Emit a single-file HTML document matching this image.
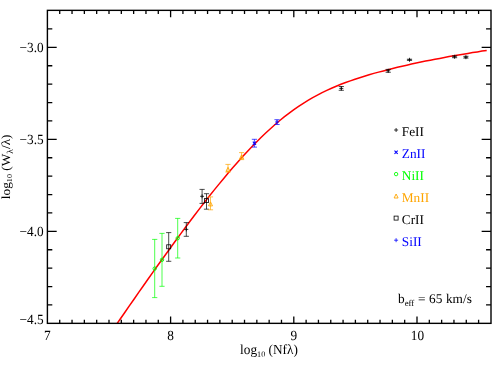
<!DOCTYPE html>
<html><head><meta charset="utf-8"><title>Curve of growth</title>
<style>
html,body{margin:0;padding:0;background:#fff;}
body{width:498px;height:378px;overflow:hidden;font-family:"Liberation Serif",serif;}
svg{display:block;will-change:transform;}
text{font-family:"Liberation Serif",serif;font-size:13.3px;text-rendering:geometricPrecision;}
</style></head><body>
<svg width="498" height="378" viewBox="0 0 498 378">
<rect width="498" height="378" fill="#fff"/>
<path d="M117.2 323.4 L119.9 319.5 L124.6 312.7 L129.3 305.9 L134.0 299.2 L138.7 292.4 L143.4 285.7 L148.1 279.0 L152.8 272.4 L157.5 265.8 L162.2 259.2 L166.9 252.7 L171.6 246.2 L176.3 239.8 L181.0 233.4 L185.7 227.0 L190.4 220.7 L195.1 214.5 L199.8 208.4 L204.5 202.3 L209.2 196.3 L213.9 190.4 L218.6 184.6 L223.3 178.9 L228.0 173.3 L232.7 167.8 L237.4 162.4 L242.2 157.1 L246.9 152.0 L251.6 147.0 L256.3 142.2 L261.0 137.5 L265.7 133.0 L270.4 128.7 L275.1 124.5 L279.8 120.5 L284.5 116.7 L289.2 113.1 L293.9 109.6 L298.6 106.4 L303.3 103.3 L308.0 100.4 L312.7 97.6 L317.4 95.1 L322.1 92.6 L326.8 90.4 L331.5 88.2 L336.2 86.2 L340.9 84.3 L345.6 82.5 L350.3 80.9 L355.0 79.2 L359.7 77.7 L364.4 76.2 L369.1 74.8 L373.8 73.4 L378.6 72.1 L383.3 70.9 L388.0 69.7 L392.7 68.5 L397.4 67.3 L402.1 66.2 L406.8 65.2 L411.5 64.1 L416.2 63.1 L420.9 62.1 L425.6 61.1 L430.3 60.2 L435.0 59.3 L439.7 58.4 L444.4 57.5 L449.1 56.6 L453.8 55.8 L458.5 55.0 L463.2 54.2 L467.9 53.4 L472.6 52.6 L477.3 51.9 L482.0 51.1 L486.7 50.4" stroke-linejoin="round" stroke="#ff0000" stroke-width="1.5" fill="none"/>
<g>
<path d="M154.7 239.4V297.6M152.1 239.4h5.2M152.1 297.6h5.2" stroke="#00ff00" stroke-width="0.7" fill="none"/><circle cx="154.7" cy="268.6" r="1.70" stroke="#00ff00" stroke-width="0.9" fill="none"/><path d="M162.0 233.4V286.3M159.4 233.4h5.2M159.4 286.3h5.2" stroke="#00ff00" stroke-width="0.7" fill="none"/><circle cx="162.0" cy="259.8" r="1.70" stroke="#00ff00" stroke-width="0.9" fill="none"/><path d="M177.7 218.4V258.0M175.1 218.4h5.2M175.1 258.0h5.2" stroke="#00ff00" stroke-width="0.7" fill="none"/><circle cx="177.7" cy="238.2" r="1.70" stroke="#00ff00" stroke-width="0.9" fill="none"/><path d="M168.7 232.6V261.3M166.1 232.6h5.2M166.1 261.3h5.2" stroke="#000" stroke-width="0.7" fill="none"/><rect x="166.7" y="244.8" width="4.0" height="4.0" stroke="#000" stroke-width="0.8" fill="none"/><path d="M206.5 193.7V209.2M203.9 193.7h5.2M203.9 209.2h5.2" stroke="#000" stroke-width="0.7" fill="none"/><rect x="204.5" y="198.6" width="4.0" height="4.0" stroke="#000" stroke-width="0.8" fill="none"/><path d="M186.3 222.6V236.3M183.7 222.6h5.2M183.7 236.3h5.2" stroke="#000" stroke-width="0.7" fill="none"/><path d="M184.3 229.4h4.0M186.3 227.4v4.0" stroke="#000" stroke-width="0.8" fill="none"/><path d="M202.1 189.4V203.4M199.5 189.4h5.2M199.5 203.4h5.2" stroke="#000" stroke-width="0.7" fill="none"/><path d="M200.1 196.3h4.0M202.1 194.3v4.0" stroke="#000" stroke-width="0.8" fill="none"/><path d="M210.5 196.9V209.8M207.9 196.9h5.2M207.9 209.8h5.2" stroke="#ffa500" stroke-width="0.7" fill="none"/><path d="M208.5 205.9h4.0L210.5 201.9z" stroke="#ffa500" stroke-width="0.9" fill="none"/><path d="M228.0 164.4V172.1M225.4 164.4h5.2M225.4 172.1h5.2" stroke="#ffa500" stroke-width="0.7" fill="none"/><path d="M226.0 171.3h4.0L228.0 167.3z" stroke="#ffa500" stroke-width="0.9" fill="none"/><path d="M241.6 152.6V159.6M239.0 152.6h5.2M239.0 159.6h5.2" stroke="#ffa500" stroke-width="0.7" fill="none"/><path d="M239.6 158.8h4.0L241.6 154.8z" stroke="#ffa500" stroke-width="0.9" fill="none"/><path d="M254.4 139.3V147.1M251.8 139.3h5.2M251.8 147.1h5.2" stroke="#0000ff" stroke-width="0.7" fill="none"/><path d="M252.8 141.7l3.2 3.2M252.8 144.9l3.2 -3.2" stroke="#0000ff" stroke-width="1.1" fill="none"/><path d="M277.0 119.7V124.5M274.4 119.7h5.2M274.4 124.5h5.2" stroke="#0000ff" stroke-width="0.7" fill="none"/><path d="M275.0 122.0h4.0M277.0 120.0v4.0" stroke="#0000ff" stroke-width="0.8" fill="none"/><path d="M341.3 86.5V90.3M338.7 86.5h5.2M338.7 90.3h5.2" stroke="#000" stroke-width="0.7" fill="none"/><path d="M339.3 88.4h4.0M341.3 86.4v4.0" stroke="#000" stroke-width="0.8" fill="none"/><path d="M388.2 69.4V72.3M385.6 69.4h5.2M385.6 72.3h5.2" stroke="#000" stroke-width="0.7" fill="none"/><path d="M386.2 70.8h4.0M388.2 68.8v4.0" stroke="#000" stroke-width="0.8" fill="none"/><path d="M409.5 59.2V60.4M406.9 59.2h5.2M406.9 60.4h5.2" stroke="#000" stroke-width="0.7" fill="none"/><path d="M407.5 59.8h4.0M409.5 57.8v4.0" stroke="#000" stroke-width="0.8" fill="none"/><path d="M454.6 55.9V57.7M452.0 55.9h5.2M452.0 57.7h5.2" stroke="#000" stroke-width="0.7" fill="none"/><path d="M452.6 56.8h4.0M454.6 54.8v4.0" stroke="#000" stroke-width="0.8" fill="none"/><path d="M465.9 56.3V58.1M463.3 56.3h5.2M463.3 58.1h5.2" stroke="#000" stroke-width="0.7" fill="none"/><path d="M463.9 57.2h4.0M465.9 55.2v4.0" stroke="#000" stroke-width="0.8" fill="none"/>
</g>
<path d="M59.72 323.35v-3.7M59.72 10.35v3.7M72.04 323.35v-3.7M72.04 10.35v3.7M84.36 323.35v-3.7M84.36 10.35v3.7M96.68 323.35v-3.7M96.68 10.35v3.7M109.00 323.35v-3.7M109.00 10.35v3.7M121.32 323.35v-3.7M121.32 10.35v3.7M133.64 323.35v-3.7M133.64 10.35v3.7M145.96 323.35v-3.7M145.96 10.35v3.7M158.28 323.35v-3.7M158.28 10.35v3.7M170.60 323.35v-6.9M170.60 10.35v6.9M182.92 323.35v-3.7M182.92 10.35v3.7M195.24 323.35v-3.7M195.24 10.35v3.7M207.56 323.35v-3.7M207.56 10.35v3.7M219.88 323.35v-3.7M219.88 10.35v3.7M232.20 323.35v-3.7M232.20 10.35v3.7M244.52 323.35v-3.7M244.52 10.35v3.7M256.84 323.35v-3.7M256.84 10.35v3.7M269.16 323.35v-3.7M269.16 10.35v3.7M281.48 323.35v-3.7M281.48 10.35v3.7M293.80 323.35v-6.9M293.80 10.35v6.9M306.12 323.35v-3.7M306.12 10.35v3.7M318.44 323.35v-3.7M318.44 10.35v3.7M330.76 323.35v-3.7M330.76 10.35v3.7M343.08 323.35v-3.7M343.08 10.35v3.7M355.40 323.35v-3.7M355.40 10.35v3.7M367.72 323.35v-3.7M367.72 10.35v3.7M380.04 323.35v-3.7M380.04 10.35v3.7M392.36 323.35v-3.7M392.36 10.35v3.7M404.68 323.35v-3.7M404.68 10.35v3.7M417.00 323.35v-6.9M417.00 10.35v6.9M429.32 323.35v-3.7M429.32 10.35v3.7M441.64 323.35v-3.7M441.64 10.35v3.7M453.96 323.35v-3.7M453.96 10.35v3.7M466.28 323.35v-3.7M466.28 10.35v3.7M478.60 323.35v-3.7M478.60 10.35v3.7M47.4 28.95h4.9M490.95 28.95h-4.9M47.4 47.35h9.3M490.95 47.35h-9.3M47.4 65.75h4.9M490.95 65.75h-4.9M47.4 84.15h4.9M490.95 84.15h-4.9M47.4 102.55h4.9M490.95 102.55h-4.9M47.4 120.95h4.9M490.95 120.95h-4.9M47.4 139.35h9.3M490.95 139.35h-9.3M47.4 157.75h4.9M490.95 157.75h-4.9M47.4 176.15h4.9M490.95 176.15h-4.9M47.4 194.55h4.9M490.95 194.55h-4.9M47.4 212.95h4.9M490.95 212.95h-4.9M47.4 231.35h9.3M490.95 231.35h-9.3M47.4 249.75h4.9M490.95 249.75h-4.9M47.4 268.15h4.9M490.95 268.15h-4.9M47.4 286.55h4.9M490.95 286.55h-4.9M47.4 304.95h4.9M490.95 304.95h-4.9" stroke="#000" stroke-width="1.3" fill="none"/>
<rect x="47.4" y="10.35" width="443.6" height="313.0" fill="none" stroke="#000" stroke-width="1.4"/>
<g>
<text transform="translate(43.7,51.8) scale(1,1.05)" text-anchor="end" fill="#000" font-size="13.3">−3.0</text><text transform="translate(43.7,143.8) scale(1,1.05)" text-anchor="end" fill="#000" font-size="13.3">−3.5</text><text transform="translate(43.7,235.8) scale(1,1.05)" text-anchor="end" fill="#000" font-size="13.3">−4.0</text><text transform="translate(43.7,323.5) scale(1,1.05)" text-anchor="end" fill="#000" font-size="13.3">−4.5</text><text transform="translate(47.3,340.1) scale(1,1.05)" text-anchor="middle" fill="#000" font-size="13.3">7</text><text transform="translate(170.5,340.1) scale(1,1.05)" text-anchor="middle" fill="#000" font-size="13.3">8</text><text transform="translate(293.8,340.1) scale(1,1.05)" text-anchor="middle" fill="#000" font-size="13.3">9</text><text transform="translate(417.4,340.1) scale(1,1.05)" text-anchor="middle" fill="#000" font-size="13.3">10</text><text transform="translate(269.0,353.9) scale(1,1.04)" text-anchor="middle" fill="#000" font-size="13.15">log<tspan font-size="8.15" dy="2.63">10</tspan><tspan dy="-2.63"> (Nfλ)</tspan></text><text transform="translate(9.55,166.8) rotate(-90) scale(1,0.93)" text-anchor="middle" fill="#000" font-size="13.1">log<tspan font-size="8.18" dy="2.64">10</tspan><tspan dy="-2.64"> (W</tspan><tspan font-size="9.6" dy="3.4">λ</tspan><tspan dy="-3.4">/λ)</tspan></text><text word-spacing="0.3" transform="translate(398.0,303.0) scale(1,1.0)" text-anchor="start" fill="#000" font-size="14.25">b<tspan font-size="8.83" dy="2.85">eff</tspan><tspan dy="-2.85"> = 65 km/s</tspan></text>
</g>
<g>
<path d="M394.1 130.0h4.0M396.1 128.0v4.0" stroke="#000" stroke-width="0.8" fill="none"/><text transform="translate(401.8,135.6) scale(1,1.0)" text-anchor="start" fill="#000" font-size="13.3">FeII</text><path d="M394.5 150.6l3.2 3.2M394.5 153.8l3.2 -3.2" stroke="#0000ff" stroke-width="1.1" fill="none"/><text transform="translate(401.8,157.8) scale(1,1.0)" text-anchor="start" fill="#0000ff" font-size="13.3">ZnII</text><circle cx="396.1" cy="174.1" r="1.70" stroke="#00ff00" stroke-width="0.9" fill="none"/><text transform="translate(401.8,179.7) scale(1,1.0)" text-anchor="start" fill="#00ff00" font-size="13.3">NiII</text><path d="M394.1 198.0h4.0L396.1 194.0z" stroke="#ffa500" stroke-width="0.9" fill="none"/><text transform="translate(401.8,201.6) scale(1,1.0)" text-anchor="start" fill="#ffa500" font-size="13.3">MnII</text><rect x="394.1" y="216.1" width="4.0" height="4.0" stroke="#000" stroke-width="0.8" fill="none"/><text transform="translate(401.8,223.7) scale(1,1.0)" text-anchor="start" fill="#000" font-size="13.3">CrII</text><path d="M394.1 240.2h4.0M396.1 238.2v4.0" stroke="#0000ff" stroke-width="0.8" fill="none"/><text transform="translate(401.8,245.8) scale(1,1.0)" text-anchor="start" fill="#0000ff" font-size="13.3">SiII</text>
</g>
</svg>
</body></html>
